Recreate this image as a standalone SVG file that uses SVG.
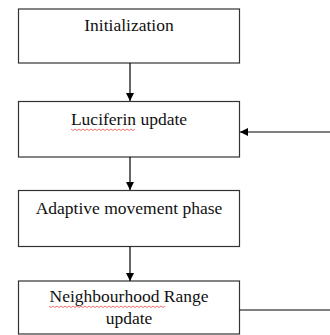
<svg xmlns="http://www.w3.org/2000/svg" width="330" height="335" viewBox="0 0 330 335">
<defs>
<marker id="ah" markerWidth="8" markerHeight="8" refX="8" refY="4" orient="auto" markerUnits="userSpaceOnUse">
<path d="M0,0 L8,4 L0,8 Z" fill="#000"/>
</marker>
<style>
.box{fill:#fff;stroke:#333;stroke-width:1.2}
.t{font-family:"Liberation Serif","Times New Roman",serif;font-size:17.5px;fill:#111;text-anchor:middle}
.c{stroke:#000;stroke-width:1.2;fill:none}
.sq{stroke:#e33;stroke-width:0.7;fill:none}
</style>
</defs>
<rect width="330" height="335" fill="#fff"/>
<g id="init"><rect class="box" x="18.5" y="9" width="221" height="54"/><text class="t" x="129" y="31">Initialization</text></g>
<g id="luciferin"><rect class="box" x="18.5" y="101.5" width="221" height="55.5"/><text class="t" x="129" y="125">Luciferin update</text>
<path class="sq" d="M71,129 l2,1.5 l2,-1.5 l2,1.5 l2,-1.5 l2,1.5 l2,-1.5 l2,1.5 l2,-1.5 l2,1.5 l2,-1.5 l2,1.5 l2,-1.5 l2,1.5 l2,-1.5 l2,1.5 l2,-1.5 l2,1.5 l2,-1.5 l2,1.5 l2,-1.5 l2,1.5 l2,-1.5 l2,1.5 l2,-1.5 l2,1.5 l2,-1.5 l2,1.5 l2,-1.5 l2,1.5 l2,-1.5 l2,1.5 l2,-1.5"/></g>
<g id="adaptive"><rect class="box" x="18.5" y="190.5" width="221" height="56"/><text class="t" x="129" y="214">Adaptive movement phase</text></g>
<g id="neighbourhood"><rect class="box" x="18.5" y="281" width="221" height="53"/><text class="t" x="129" y="302">Neighbourhood Range</text><text class="t" x="129" y="324">update</text>
<path class="sq" d="M49,306 l2,1.5 l2,-1.5 l2,1.5 l2,-1.5 l2,1.5 l2,-1.5 l2,1.5 l2,-1.5 l2,1.5 l2,-1.5 l2,1.5 l2,-1.5 l2,1.5 l2,-1.5 l2,1.5 l2,-1.5 l2,1.5 l2,-1.5 l2,1.5 l2,-1.5 l2,1.5 l2,-1.5 l2,1.5 l2,-1.5 l2,1.5 l2,-1.5 l2,1.5 l2,-1.5 l2,1.5 l2,-1.5 l2,1.5 l2,-1.5 l2,1.5 l2,-1.5 l2,1.5 l2,-1.5 l2,1.5 l2,-1.5 l2,1.5 l2,-1.5 l2,1.5 l2,-1.5 l2,1.5 l2,-1.5 l2,1.5 l2,-1.5 l2,1.5 l2,-1.5 l2,1.5 l2,-1.5 l2,1.5 l2,-1.5 l2,1.5 l2,-1.5 l2,1.5 l2,-1.5 l2,1.5 l2,-1.5"/></g>
<g id="connectors">
<line class="c" x1="130" y1="63" x2="130" y2="101" marker-end="url(#ah)"/>
<line class="c" x1="130" y1="157" x2="130" y2="190" marker-end="url(#ah)"/>
<line class="c" x1="130" y1="246.5" x2="130" y2="281" marker-end="url(#ah)"/>
<line class="c" x1="239.5" y1="310" x2="330" y2="310"/>
<line class="c" x1="330" y1="132" x2="240" y2="132" marker-end="url(#ah)"/>
</g>
</svg>
